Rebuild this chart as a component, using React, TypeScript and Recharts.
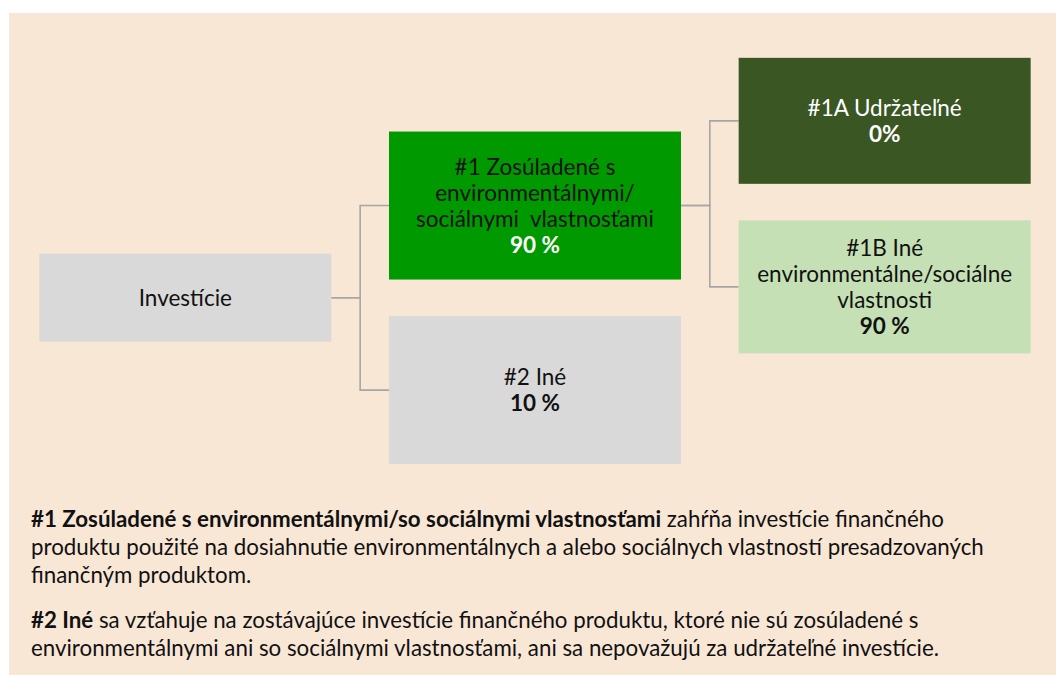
import React from 'react';
import { ComposedChart, XAxis, YAxis, Scatter, Line } from 'recharts';

// tree nodes
const nodeLabels = [
  ['Investície'],
  ['#1 Zosúladené s', 'environmentálnymi/', 'sociálnymi  vlastnosťami'],
  ['#2 Iné'],
  ['#1A Udržateľné'],
  ['#1B Iné', 'environmentálne/sociálne', 'vlastnosti'],
];
const nodeShares = ['', '90 %', '10 %', '0%', '90 %'];
const nodeLevels = [0, 1, 1, 2, 2];
const nodeRows = [44.1, 30.45, 57.8, 17.9, 42.5]; // % of diagram height
const nodeParents = [-1, 0, 0, 1, 1];

const W = 1056;
const H = 675;
const BOX_W = 292;
const LINE_H = 26;
const FONT = 'Lato, "Noto Sans", sans-serif';
const xDomain = [-0.53, 2.49];
const boxHeights = [88, 148, 148, 126, 133];
const boxFills = ['#D9D9D9', '#009900', '#D9D9D9', '#3A5723', '#C5E0B4'];
const labelColors = ['#111', '#111', '#111', '#fff', '#111'];
const shareColors = ['#111', '#fff', '#111', '#fff', '#111'];

const nodes = nodeLabels.map((lines, i) => ({
  idx: i,
  lines,
  share: nodeShares[i],
  level: nodeLevels[i],
  row: nodeRows[i],
}));

const halfBox = BOX_W / 2 / (W / (xDomain[1] - xDomain[0]));
const links = nodeParents
  .map((p, i) => ({ p, i }))
  .filter((l) => l.p >= 0)
  .map(({ p, i }) => [
    { level: nodeLevels[p] + halfBox, row: nodeRows[p] },
    { level: nodeLevels[i] - halfBox, row: nodeRows[i] },
  ]);

const NodeBox = (props: any) => {
  const { cx, cy, payload } = props;
  const i = payload.idx;
  const h = boxHeights[i];
  const all = payload.share ? [...payload.lines, payload.share] : payload.lines;
  const top = cy - ((all.length - 1) * LINE_H) / 2;
  return (
    <g>
      <rect x={cx - BOX_W / 2} y={cy - h / 2} width={BOX_W} height={h} fill={boxFills[i]} />
      {all.map((t: string, k: number) => {
        const isShare = payload.share && k === all.length - 1;
        return (
          <text
            key={k}
            x={cx}
            y={top + k * LINE_H + 8}
            textAnchor='middle'
            fontFamily={FONT}
            fontSize={22.5}
            fontWeight={isShare ? 700 : 400}
            fill={isShare ? shareColors[i] : labelColors[i]}
            style={{ whiteSpace: 'pre' }}
          >
            {t}
          </text>
        );
      })}
    </g>
  );
};

const noteStyle: React.CSSProperties = {
  position: 'absolute',
  left: 31,
  fontFamily: FONT,
  fontSize: 22.3,
  lineHeight: '20px',
  color: '#111',
  whiteSpace: 'pre',
};

export default function App() {
  const notes = [
    { y: 527, bold: '#1 Zosúladené s environmentálnymi/so sociálnymi vlastnosťami', rest: ' zahŕňa investície finančného' },
    { y: 555.5, bold: '', rest: 'produktu použité na dosiahnutie environmentálnych a alebo sociálnych vlastností presadzovaných' },
    { y: 583.5, bold: '', rest: 'finančným produktom.' },
    { y: 628, bold: '#2 Iné', rest: ' sa vzťahuje na zostávajúce investície finančného produktu, ktoré nie sú zosúladené s' },
    { y: 656, bold: '', rest: 'environmentálnymi ani so sociálnymi vlastnosťami, ani sa nepovažujú za udržateľné investície.' },
  ];
  return (
    <div style={{ position: 'absolute', left: 0, top: 0, width: W, height: H, background: '#fff' }}>
      <div style={{ position: 'absolute', left: 9, top: 13, width: W - 9, height: H - 13, background: '#F9E7D6' }} />
      <div style={{ position: 'absolute', left: 0, top: 0 }}>
        <ComposedChart width={W} height={H} margin={{ top: 0, right: 0, bottom: 0, left: 0 }} data={nodes}>
          <XAxis type='number' dataKey='level' domain={xDomain} hide allowDataOverflow />
          <YAxis type='number' dataKey='row' domain={[0, 100]} reversed hide allowDataOverflow />
          {links.map((d, k) => (
            <Line
              key={k}
              data={d}
              dataKey='row'
              type='step'
              stroke='#A6A6A6'
              strokeWidth={1.6}
              dot={false}
              activeDot={false}
              isAnimationActive={false}
            />
          ))}
          <Scatter data={nodes} dataKey='row' shape={NodeBox} isAnimationActive={false} />
        </ComposedChart>
      </div>
      {notes.map((n, k) => (
        <div key={k} style={{ ...noteStyle, top: n.y - 18.5 }}>
          {n.bold && <b>{n.bold}</b>}
          {n.rest}
        </div>
      ))}
    </div>
  );
}
